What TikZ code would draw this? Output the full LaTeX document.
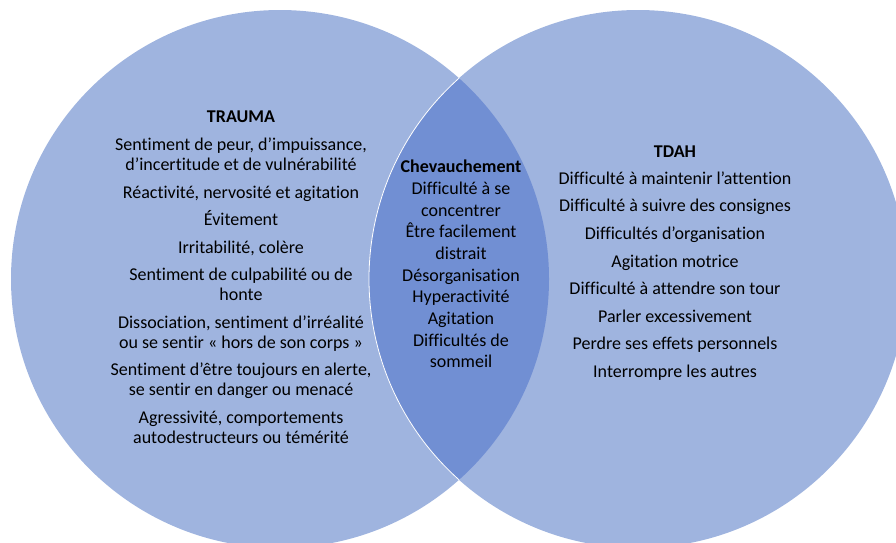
\documentclass[tikz,border=0pt]{standalone}
\usepackage{fontspec}
\setmainfont[Ligatures=NoCommon]{Carlito}
\definecolor{venn}{RGB}{159,180,223}
\definecolor{vennoverlap}{RGB}{113,143,211}
\tikzset{venntext/.style={align=center, font=\fontsize{18}{20}\selectfont, text=black}}

\begin{document}
\begin{tikzpicture}[x=1pt,y=-1pt]
\useasboundingbox (0,0) rectangle (896,542);
\clip (0,0) rectangle (896,542);
\coordinate (L) at (280,279);
\coordinate (R) at (638,279);
\fill[venn] (L) circle (269pt);
\fill[venn] (R) circle (269pt);
\begin{scope}
\clip (L) circle (269pt);
\fill[vennoverlap] (R) circle (269pt);
\draw[white, line width=0.8pt] (R) circle (269pt);
\end{scope}
\node[venntext] (trauma) at (241,277) {\textbf{TRAUMA}\\[8pt]
Sentiment de peur, d’impuissance,\\ d’incertitude et de vulnérabilité\\[7.5pt]
Réactivité, nervosité et agitation\\[7.5pt]
Évitement\\[7.5pt]
Irritabilité, colère\\[7.5pt]
Sentiment de culpabilité ou de\\ honte\\[7.5pt]
Dissociation, sentiment d’irréalité\\ ou se sentir « hors de son corps »\\[7.5pt]
Sentiment d’être toujours en alerte,\\ se sentir en danger ou menacé\\[7.5pt]
Agressivité, comportements\\ autodestructeurs ou témérité};
\node[venntext, font=\fontsize{18}{21.7}\selectfont] (chev) at (461,264) {\textbf{Chevauchement}\\
Difficulté à se\\ concentrer\\ Être facilement\\ distrait\\ Désorganisation\\
Hyperactivité\\ Agitation\\ Difficultés de\\ sommeil};
\node[venntext] (tdah) at (675,263) {\textbf{TDAH}\\[7pt]
Difficulté à maintenir l’attention\\[7.6pt]
Difficulté à suivre des consignes\\[7.6pt]
Difficultés d’organisation\\[7.6pt]
Agitation motrice\\[7.6pt]
Difficulté à attendre son tour\\[7.6pt]
Parler excessivement\\[7.6pt]
Perdre ses effets personnels\\[7.6pt]
Interrompre les autres};
\end{tikzpicture}
\end{document}
